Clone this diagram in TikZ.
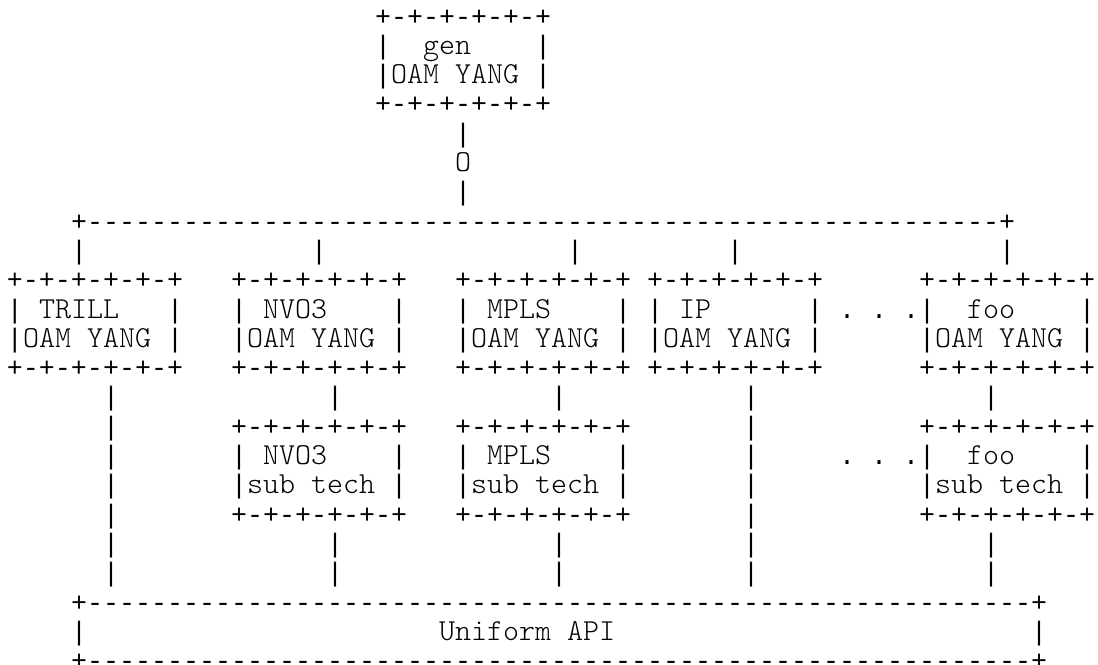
\documentclass[tikz,border=0pt]{standalone}
\usepackage{fontspec}
\newfontfamily\symfont{Liberation Mono}
\newfontfamily\courfont{lmmonolt10-regular.otf}
\newcommand\w[1]{{\courfont\fontsize{22.857}{24}\selectfont #1}}
\begin{document}
\begin{tikzpicture}[x=0.75pt,y=0.75pt,
  asc/.style={anchor=base west, inner sep=0pt, outer sep=0pt,
    font=\symfont\fontsize{20}{24}\selectfont, text=black}]
\useasboundingbox (0,0) rectangle (1098,-664);
\newcommand\ascii[4]{\node[asc] (#1) at ({7+16*#2},{-(25+29.3*#3)}) {#4};}
% generic OAM YANG box
\ascii{genT}{23}{0}{+-+-+-+-+-+}
\ascii{genA}{23}{1}{|~~\w{gen}~~~~|}
\ascii{genB}{23}{2}{|\w{OAM~YANG}~|}
\ascii{genF}{23}{3}{+-+-+-+-+-+}
\ascii{genL1}{28}{4}{|}
\ascii{genO}{28}{5}{\w{O}}
\ascii{genL2}{28}{6}{|}
% distribution line
\ascii{bus}{4}{7}{+---------------------------------------------------------+}
\ascii{bTr}{4}{8}{|}
\ascii{bNv}{19}{8}{|}
\ascii{bMp}{35}{8}{|}
\ascii{bIp}{45}{8}{|}
\ascii{bFo}{62}{8}{|}
% technology OAM YANG boxes
\ascii{trT}{0}{9}{+-+-+-+-+-+}
\ascii{nvT}{14}{9}{+-+-+-+-+-+}
\ascii{mpT}{28}{9}{+-+-+-+-+-+}
\ascii{ipT}{40}{9}{+-+-+-+-+-+}
\ascii{foT}{57}{9}{+-+-+-+-+-+}
\ascii{trA}{0}{10}{|~\w{TRILL}~~~|}
\ascii{nvA}{14}{10}{|~\w{NVO3}~~~~|}
\ascii{mpA}{28}{10}{|~\w{MPLS}~~~~|}
\ascii{ipA}{40}{10}{|~\w{IP}~~~~~~|}
\ascii{dots1}{52}{10}{.~.~.}
\ascii{foA}{57}{10}{|~~\w{foo}~~~~|}
\ascii{trB}{0}{11}{|\w{OAM~YANG}~|}
\ascii{nvB}{14}{11}{|\w{OAM~YANG}~|}
\ascii{mpB}{28}{11}{|\w{OAM~YANG}~|}
\ascii{ipB}{40}{11}{|\w{OAM~YANG}~|}
\ascii{foB}{57}{11}{|\w{OAM~YANG}~|}
\ascii{trF}{0}{12}{+-+-+-+-+-+}
\ascii{nvF}{14}{12}{+-+-+-+-+-+}
\ascii{mpF}{28}{12}{+-+-+-+-+-+}
\ascii{ipF}{40}{12}{+-+-+-+-+-+}
\ascii{foF}{57}{12}{+-+-+-+-+-+}
% links below
\ascii{tr13}{6}{13}{|}
\ascii{nv13}{20}{13}{|}
\ascii{mp13}{34}{13}{|}
\ascii{ip13}{46}{13}{|}
\ascii{fo13}{61}{13}{|}
% sub technology boxes
\ascii{tr14}{6}{14}{|}
\ascii{nvsT}{14}{14}{+-+-+-+-+-+}
\ascii{mpsT}{28}{14}{+-+-+-+-+-+}
\ascii{ip14}{46}{14}{|}
\ascii{fosT}{57}{14}{+-+-+-+-+-+}
\ascii{tr15}{6}{15}{|}
\ascii{nvsA}{14}{15}{|~\w{NVO3}~~~~|}
\ascii{mpsA}{28}{15}{|~\w{MPLS}~~~~|}
\ascii{ip15}{46}{15}{|}
\ascii{dots2}{52}{15}{.~.~.}
\ascii{fosA}{57}{15}{|~~\w{foo}~~~~|}
\ascii{tr16}{6}{16}{|}
\ascii{nvsB}{14}{16}{|\w{sub~tech}~|}
\ascii{mpsB}{28}{16}{|\w{sub~tech}~|}
\ascii{ip16}{46}{16}{|}
\ascii{fosB}{57}{16}{|\w{sub~tech}~|}
\ascii{tr17}{6}{17}{|}
\ascii{nvsF}{14}{17}{+-+-+-+-+-+}
\ascii{mpsF}{28}{17}{+-+-+-+-+-+}
\ascii{ip17}{46}{17}{|}
\ascii{fosF}{57}{17}{+-+-+-+-+-+}
% links to the API
\foreach \r in {18,19}{
  \ascii{tr\r}{6}{\r}{|}
  \ascii{nv\r}{20}{\r}{|}
  \ascii{mp\r}{34}{\r}{|}
  \ascii{ip\r}{46}{\r}{|}
  \ascii{fo\r}{61}{\r}{|}
}
% uniform API box
\ascii{apiT}{4}{20}{+-----------------------------------------------------------+}
\ascii{apiL}{4}{21}{|}
\ascii{apiX}{27}{21}{\w{Uniform~API}}
\ascii{apiR}{64}{21}{|}
\ascii{apiF}{4}{22}{+-----------------------------------------------------------+}
\end{tikzpicture}
\end{document}
